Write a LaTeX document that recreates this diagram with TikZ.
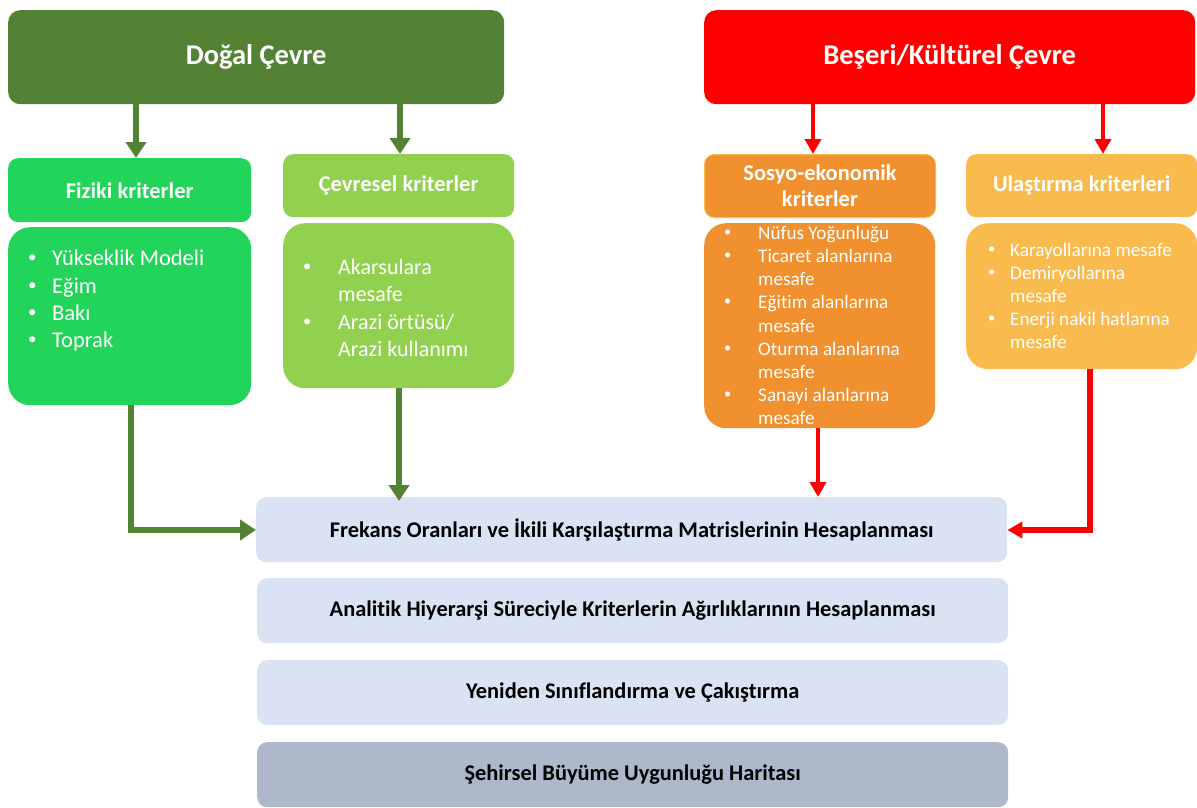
\documentclass[tikz,border=0pt]{standalone}
\usepackage{fontspec}
\setmainfont{Carlito}[Ligatures=NoCommon]
\usetikzlibrary{arrows.meta}
\definecolor{dgreen}{HTML}{548235}
\definecolor{bred}{HTML}{FF0000}
\definecolor{bgreen}{HTML}{22D55A}
\definecolor{lgreen}{HTML}{92D050}
\definecolor{orng}{HTML}{F0902F}
\definecolor{lorng}{HTML}{F9BB4E}
\definecolor{lblue}{HTML}{DAE3F3}
\definecolor{gblue}{HTML}{ADB9CA}
\newcommand{\bul}[1]{\makebox[#1][l]{\raisebox{0.12em}{\scalebox{0.75}{•}}}}
\begin{document}
\begin{tikzpicture}[x=1pt,y=-1pt,
  box/.style={anchor=north west, inner sep=0pt, rounded corners=#1},
  box/.default=10pt,
  title/.style={text=white, font=\bfseries\fontsize{28.5}{32}\selectfont},
  hdr/.style={text=white, font=\bfseries\fontsize{22.5}{26}\selectfont, align=center},
  stage/.style={box, fill=lblue, minimum width=751pt, minimum height=65pt,
    font=\bfseries\fontsize{22.4}{26}\selectfont, text=black},
  lstA/.style={anchor=base west, inner sep=0pt, text=white, font=\fontsize{22.5}{26}\selectfont},
  lstB/.style={anchor=base west, inner sep=0pt, text=white, font=\fontsize{22}{26}\selectfont},
  lstC/.style={anchor=base west, inner sep=0pt, text=white, font=\fontsize{19.2}{22}\selectfont},
  garrow/.style={draw=dgreen, line width=6pt, -{Triangle[width=20pt,length=16pt]}},
  rarrow/.style={draw=bred, line width=4.5pt, -{Triangle[width=16pt,length=15pt]}}
]
\useasboundingbox (0,0) rectangle (1197,808);
% top boxes
\node[box=12pt, fill=dgreen, minimum width=496pt, minimum height=94pt] (dogal) at (8,10) {};
\node[title] (dogalt) at (dogal.center) {Doğal Çevre};
\node[box=12pt, fill=bred, minimum width=491pt, minimum height=94pt] (beseri) at (704,10) {};
\node[title] (beserit) at (beseri.center) {Beşeri/Kültürel Çevre};
% headers
\node[box, fill=bgreen, minimum width=243pt, minimum height=64pt] (fiz) at (8,158) {};
\node[hdr] (fizt) at (fiz.center) {Fiziki kriterler};
\node[box, fill=lgreen, minimum width=231pt, minimum height=63pt] (cev) at (283,154) {};
\node[hdr] (cevt) at (cev.center) {Çevresel kriterler};
\node[box, fill=orng, draw=lorng, line width=1pt, minimum width=231pt, minimum height=63pt] (sos) at (704,154) {};
\node[hdr] (sost) at (sos.center) {Sosyo-ekonomik\\kriterler};
\node[box, fill=lorng, minimum width=231pt, minimum height=63pt] (ula) at (966,154) {};
\node[hdr] (ulat) at (ula.center) {Ulaştırma kriterleri};
% bodies
\node[box=22pt, fill=bgreen, minimum width=243pt, minimum height=178pt] (fizb) at (8,227) {};
\node[box=22pt, fill=lgreen, minimum width=231pt, minimum height=165pt] (cevb) at (283,223) {};
\node[box=22pt, fill=orng, minimum width=231pt, minimum height=205pt] (sosb) at (704,223) {};
\node[box=22pt, fill=lorng, minimum width=231pt, minimum height=146pt] (ulab) at (966,223) {};
% lists
\node[lstA] (f1) at (28,265) {\bul{24pt}Yükseklik Modeli};
\node[lstA] (f2) at (28,293) {\bul{24pt}Eğim};
\node[lstA] (f3) at (28,320) {\bul{24pt}Bakı};
\node[lstA] (f4) at (28,347) {\bul{24pt}Toprak};
\node[lstB] (c1) at (303,274) {\bul{35pt}Akarsulara};
\node[lstB] (c2) at (338,301) {mesafe};
\node[lstB] (c3) at (303,329) {\bul{35pt}Arazi örtüsü/};
\node[lstB] (c4) at (338,356) {Arazi kullanımı};
\node[lstC] (s1) at (724,239) {\bul{34pt}Nüfus Yoğunluğu};
\node[lstC] (s2) at (724,262) {\bul{34pt}Ticaret alanlarına};
\node[lstC] (s3) at (758,285) {mesafe};
\node[lstC] (s4) at (724,308) {\bul{34pt}Eğitim alanlarına};
\node[lstC] (s5) at (758,332) {mesafe};
\node[lstC] (s6) at (724,355) {\bul{34pt}Oturma alanlarına};
\node[lstC] (s7) at (758,378) {mesafe};
\node[lstC] (s8) at (724,401) {\bul{34pt}Sanayi alanlarına};
\node[lstC] (s9) at (758,424) {mesafe};
\node[lstC] (u1) at (988,256) {\bul{22pt}Karayollarına mesafe};
\node[lstC] (u2) at (988,279) {\bul{22pt}Demiryollarına};
\node[lstC] (u3) at (1010,302) {mesafe};
\node[lstC] (u4) at (988,325) {\bul{22pt}Enerji nakil hatlarına};
\node[lstC] (u5) at (1010,348) {mesafe};
% stages
\node[stage] (st1) at (256,497) {Frekans Oranları ve İkili Karşılaştırma Matrislerinin Hesaplanması};
\node[stage] (st2) at (257,578) {Analitik Hiyerarşi Süreciyle Kriterlerin Ağırlıklarının Hesaplanması};
\node[stage] (st3) at (257,660) {Yeniden Sınıflandırma ve Çakıştırma};
\node[stage, fill=gblue] (st4) at (257,742) {Şehirsel Büyüme Uygunluğu Haritası};
% arrows
\draw[garrow] (dogal.south -| 136,0) -- (fiz.north -| 136,0);
\draw[garrow] (dogal.south -| 400,0) -- (cev.north -| 400,0);
\draw[rarrow] (beseri.south -| 813,0) -- (sos.north -| 813,0);
\draw[rarrow] (beseri.south -| 1103,0) -- (ula.north -| 1103,0);
\draw[garrow] (fizb.south -| 131,0) |- (st1.west |- 0,530);
\draw[garrow] (cevb.south -| 399,0) -- ([yshift=-4pt]st1.north -| 399,0);
\draw[rarrow] (sosb.south -| 818,0) -- (st1.north -| 818,0);
\draw[rarrow, line width=5.5pt] (ulab.south -| 1090,0) |- (st1.east |- 0,530);
\end{tikzpicture}
\end{document}
